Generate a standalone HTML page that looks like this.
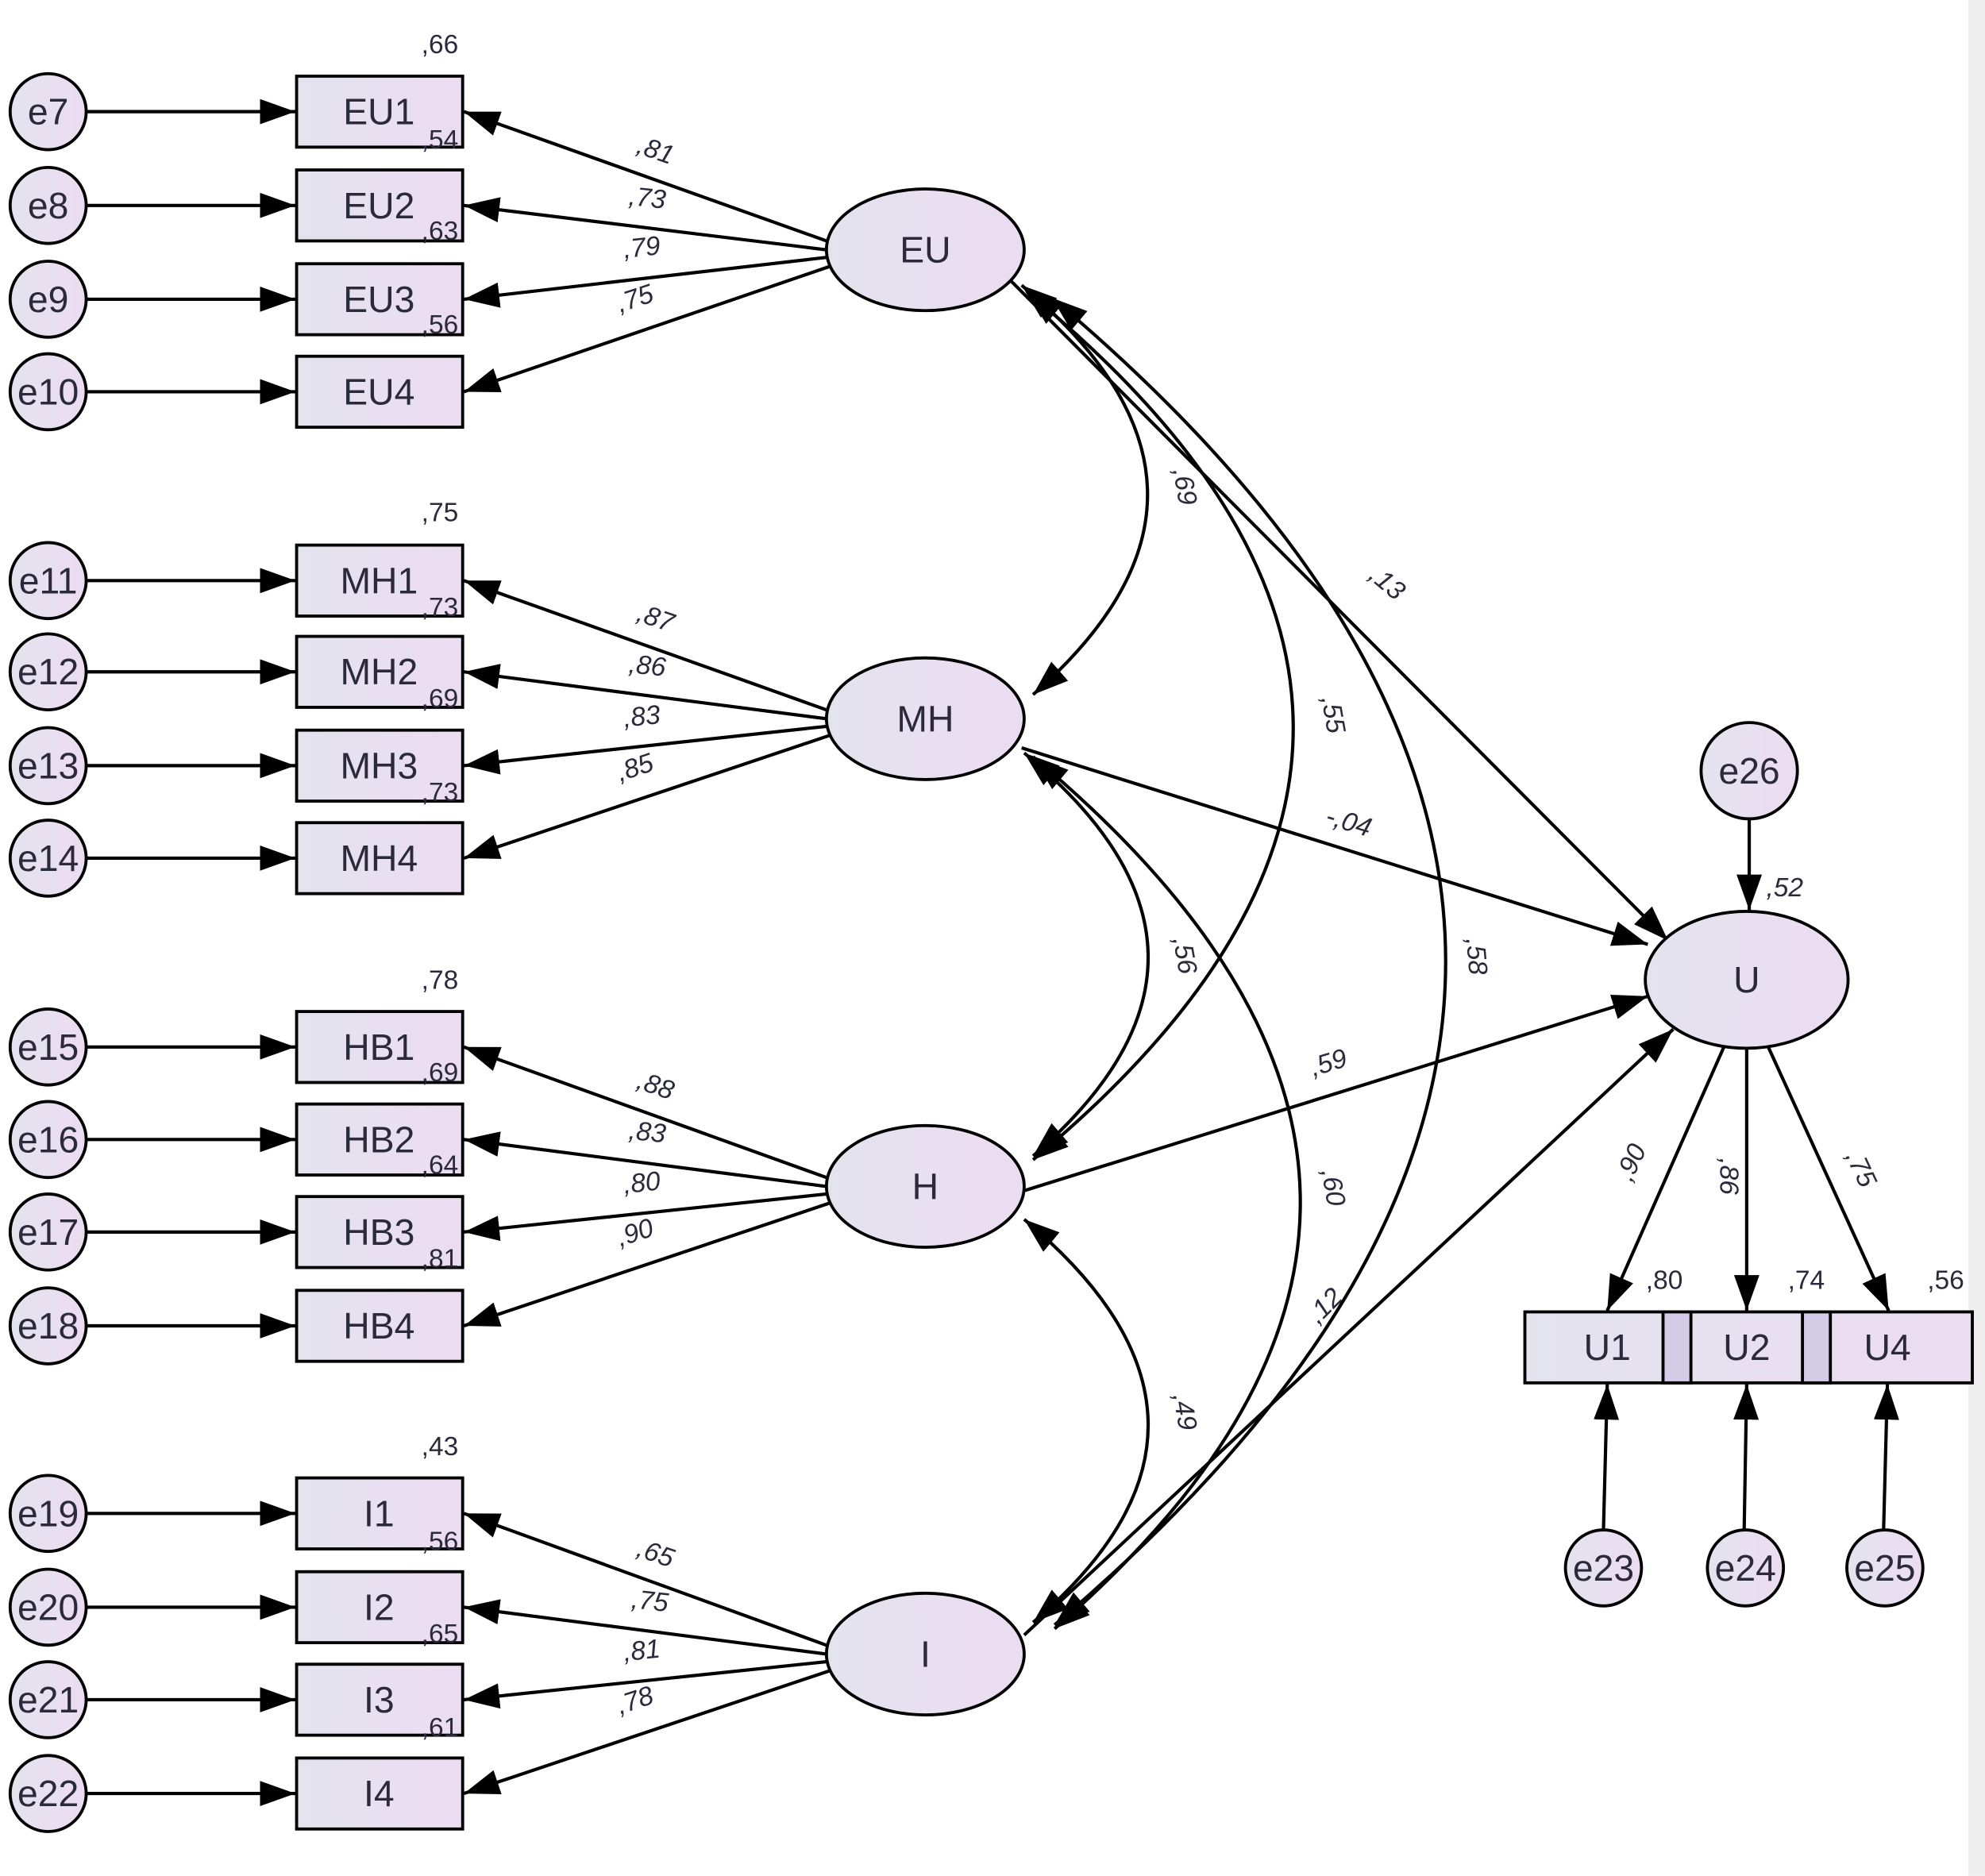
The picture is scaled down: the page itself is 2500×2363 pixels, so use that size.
<!DOCTYPE html>
<html><head><meta charset="utf-8"><style>
html,body{margin:0;padding:0;background:#fff;}
svg{display:block;}
text{font-family:"Liberation Sans",Arial,sans-serif;fill:#2a2a3a;}
.n{font-size:29px;text-anchor:middle;dominant-baseline:central;}
.s{font-size:21px;text-anchor:middle;}
.l{font-size:21px;font-style:italic;text-anchor:middle;}
</style></head><body>
<svg width="2500" height="2363" viewBox="0 0 1566 1480" xmlns="http://www.w3.org/2000/svg">
<defs>
<linearGradient id="g" x1="0" y1="0" x2="1" y2="0"><stop offset="0" stop-color="#e3e3ee"/><stop offset="1" stop-color="#ecdcf1"/></linearGradient>
<marker id="a" markerUnits="userSpaceOnUse" markerWidth="30" markerHeight="22" refX="28" refY="10" orient="auto-start-reverse"><path d="M0,0 L28,10 L0,20 Z" fill="#000"/></marker>
</defs>
<rect x="1553" y="0" width="13" height="1480" fill="#eeeeee"/>
<g stroke="#000" stroke-width="2.6" fill="none">
<g marker-end="url(#a)">
<line x1="68" y1="88" x2="233" y2="88"/><line x1="68" y1="162" x2="233" y2="162"/><line x1="68" y1="236" x2="233" y2="236"/><line x1="68" y1="309" x2="233" y2="309"/>
<line x1="68" y1="458" x2="233" y2="458"/><line x1="68" y1="530" x2="233" y2="530"/><line x1="68" y1="604" x2="233" y2="604"/><line x1="68" y1="677" x2="233" y2="677"/>
<line x1="68" y1="826" x2="233" y2="826"/><line x1="68" y1="899" x2="233" y2="899"/><line x1="68" y1="972" x2="233" y2="972"/><line x1="68" y1="1046" x2="233" y2="1046"/>
<line x1="68" y1="1194" x2="233" y2="1194"/><line x1="68" y1="1268" x2="233" y2="1268"/><line x1="68" y1="1341" x2="233" y2="1341"/><line x1="68" y1="1415" x2="233" y2="1415"/>
<line x1="652" y1="190" x2="366" y2="88"/><line x1="652" y1="197" x2="366" y2="162"/><line x1="652" y1="203" x2="366" y2="236"/><line x1="655" y1="210" x2="366" y2="309"/>
<line x1="652" y1="560" x2="366" y2="458"/><line x1="652" y1="567" x2="366" y2="530"/><line x1="652" y1="573" x2="366" y2="604"/><line x1="655" y1="580" x2="366" y2="677"/>
<line x1="652" y1="929" x2="366" y2="826"/><line x1="652" y1="936" x2="366" y2="899"/><line x1="652" y1="942" x2="366" y2="972"/><line x1="655" y1="949" x2="366" y2="1046"/>
<line x1="652" y1="1298" x2="366" y2="1194"/><line x1="652" y1="1305" x2="366" y2="1268"/><line x1="652" y1="1311" x2="366" y2="1341"/><line x1="655" y1="1318" x2="366" y2="1415"/>
<line x1="798" y1="222" x2="1316" y2="742"/>
<line x1="806" y1="590" x2="1300" y2="745"/>
<line x1="806" y1="940" x2="1300" y2="786"/>
<line x1="808" y1="1290" x2="1320" y2="812"/>
<line x1="1380" y1="647" x2="1380" y2="718"/>
<line x1="1360" y1="826" x2="1268" y2="1034"/>
<line x1="1378" y1="828" x2="1378" y2="1034"/>
<line x1="1395" y1="826" x2="1490" y2="1034"/>
<line x1="1265" y1="1207" x2="1268" y2="1092"/>
<line x1="1376" y1="1207" x2="1378" y2="1092"/>
<line x1="1486" y1="1207" x2="1489" y2="1092"/>
</g>
<g marker-start="url(#a)" marker-end="url(#a)">
<path d="M806,225 Q1000,386 815,548"/>
<path d="M810,230 Q1228,572 815,915"/>
<path d="M830,235 Q1450,757 832,1282"/>
<path d="M808,594 Q1000,752 815,912"/>
<path d="M815,597 Q1228,942 832,1285"/>
<path d="M808,962 Q1000,1122 815,1280"/>
</g>
</g>
<g stroke="#000" stroke-width="2.4" fill="url(#g)">
<circle cx="38" cy="88" r="30"/><circle cx="38" cy="162" r="30"/><circle cx="38" cy="236" r="30"/><circle cx="38" cy="309" r="30"/>
<circle cx="38" cy="458" r="30"/><circle cx="38" cy="530" r="30"/><circle cx="38" cy="604" r="30"/><circle cx="38" cy="677" r="30"/>
<circle cx="38" cy="826" r="30"/><circle cx="38" cy="899" r="30"/><circle cx="38" cy="972" r="30"/><circle cx="38" cy="1046" r="30"/>
<circle cx="38" cy="1194" r="30"/><circle cx="38" cy="1268" r="30"/><circle cx="38" cy="1341" r="30"/><circle cx="38" cy="1415" r="30"/>
<rect x="234" y="60" width="131" height="56"/><rect x="234" y="134" width="131" height="56"/><rect x="234" y="208" width="131" height="56"/><rect x="234" y="281" width="131" height="56"/>
<rect x="234" y="430" width="131" height="56"/><rect x="234" y="502" width="131" height="56"/><rect x="234" y="576" width="131" height="56"/><rect x="234" y="649" width="131" height="56"/>
<rect x="234" y="798" width="131" height="56"/><rect x="234" y="871" width="131" height="56"/><rect x="234" y="944" width="131" height="56"/><rect x="234" y="1018" width="131" height="56"/>
<rect x="234" y="1166" width="131" height="56"/><rect x="234" y="1240" width="131" height="56"/><rect x="234" y="1313" width="131" height="56"/><rect x="234" y="1387" width="131" height="56"/>
<ellipse cx="730" cy="197" rx="78" ry="48"/><ellipse cx="730" cy="567" rx="78" ry="48"/><ellipse cx="730" cy="936" rx="78" ry="48"/><ellipse cx="730" cy="1305" rx="78" ry="48"/>
<ellipse cx="1378" cy="773" rx="80" ry="54"/>
<circle cx="1380" cy="608" r="38"/>
<rect x="1203" y="1035" width="353" height="56"/>
<rect x="1312" y="1035" width="22" height="56" fill="#d4cce6"/>
<rect x="1422" y="1035" width="22" height="56" fill="#d4cce6"/>
<circle cx="1265" cy="1237" r="30"/><circle cx="1377" cy="1237" r="30"/><circle cx="1487" cy="1237" r="30"/>
</g>
<g>
<text x="38" y="88" class="n">e7</text><text x="38" y="162" class="n">e8</text><text x="38" y="236" class="n">e9</text><text x="38" y="309" class="n">e10</text>
<text x="38" y="458" class="n">e11</text><text x="38" y="530" class="n">e12</text><text x="38" y="604" class="n">e13</text><text x="38" y="677" class="n">e14</text>
<text x="38" y="826" class="n">e15</text><text x="38" y="899" class="n">e16</text><text x="38" y="972" class="n">e17</text><text x="38" y="1046" class="n">e18</text>
<text x="38" y="1194" class="n">e19</text><text x="38" y="1268" class="n">e20</text><text x="38" y="1341" class="n">e21</text><text x="38" y="1415" class="n">e22</text>
<text x="299" y="88" class="n">EU1</text><text x="299" y="162" class="n">EU2</text><text x="299" y="236" class="n">EU3</text><text x="299" y="309" class="n">EU4</text>
<text x="299" y="458" class="n">MH1</text><text x="299" y="530" class="n">MH2</text><text x="299" y="604" class="n">MH3</text><text x="299" y="677" class="n">MH4</text>
<text x="299" y="826" class="n">HB1</text><text x="299" y="899" class="n">HB2</text><text x="299" y="972" class="n">HB3</text><text x="299" y="1046" class="n">HB4</text>
<text x="299" y="1194" class="n">I1</text><text x="299" y="1268" class="n">I2</text><text x="299" y="1341" class="n">I3</text><text x="299" y="1415" class="n">I4</text>
<text x="730" y="197" class="n">EU</text><text x="730" y="567" class="n">MH</text><text x="730" y="936" class="n">H</text><text x="730" y="1305" class="n">I</text>
<text x="1378" y="773" class="n">U</text><text x="1380" y="608" class="n">e26</text>
<text x="1268" y="1063" class="n">U1</text><text x="1378" y="1063" class="n">U2</text><text x="1489" y="1063" class="n">U4</text>
<text x="1265" y="1237" class="n">e23</text><text x="1377" y="1237" class="n">e24</text><text x="1487" y="1237" class="n">e25</text>
</g>
<g>
<text x="347" y="42" class="s">,66</text><text x="347" y="117" class="s">,54</text><text x="347" y="189" class="s">,63</text><text x="347" y="263" class="s">,56</text>
<text x="347" y="411" class="s">,75</text><text x="347" y="486" class="s">,73</text><text x="347" y="558" class="s">,69</text><text x="347" y="632" class="s">,73</text>
<text x="347" y="780" class="s">,78</text><text x="347" y="853" class="s">,69</text><text x="347" y="926" class="s">,64</text><text x="347" y="1000" class="s">,81</text>
<text x="347" y="1148" class="s">,43</text><text x="347" y="1223" class="s">,56</text><text x="347" y="1296" class="s">,65</text><text x="347" y="1370" class="s">,61</text>
<text x="1313" y="1017" class="s">,80</text><text x="1425" y="1017" class="s">,74</text><text x="1535" y="1017" class="s">,56</text>
</g>
<g>
<text class="l" transform="translate(515,125) rotate(19)">,81</text>
<text class="l" transform="translate(510,163) rotate(6)">,73</text>
<text class="l" transform="translate(507,202) rotate(-6)">,79</text>
<text class="l" transform="translate(503,242) rotate(-18)">,75</text>
<text class="l" transform="translate(515,494) rotate(19)">,87</text>
<text class="l" transform="translate(510,532) rotate(6)">,86</text>
<text class="l" transform="translate(507,572) rotate(-6)">,83</text>
<text class="l" transform="translate(503,612) rotate(-18)">,85</text>
<text class="l" transform="translate(515,863) rotate(19)">,88</text>
<text class="l" transform="translate(510,900) rotate(6)">,83</text>
<text class="l" transform="translate(507,940) rotate(-6)">,80</text>
<text class="l" transform="translate(503,979) rotate(-18)">,90</text>
<text class="l" transform="translate(515,1232) rotate(19)">,65</text>
<text class="l" transform="translate(512,1270) rotate(6)">,75</text>
<text class="l" transform="translate(507,1309) rotate(-6)">,81</text>
<text class="l" transform="translate(503,1348) rotate(-18)">,78</text>
<text class="l" transform="translate(928,385) rotate(80)">,69</text>
<text class="l" transform="translate(928,755) rotate(80)">,56</text>
<text class="l" transform="translate(928,1115) rotate(80)">,49</text>
<text class="l" transform="translate(1045,565) rotate(80)">,55</text>
<text class="l" transform="translate(1045,938) rotate(80)">,60</text>
<text class="l" transform="translate(1158,755) rotate(85)">,58</text>
<text class="l" transform="translate(1090,465) rotate(40)">,13</text>
<text class="l" transform="translate(1062,655) rotate(17)">-,04</text>
<text class="l" transform="translate(1050,845) rotate(-17)">,59</text>
<text class="l" transform="translate(1050,1035) rotate(-45)">,12</text>
<text class="l" transform="translate(1408,707)">,52</text>
<text class="l" transform="translate(1293,920) rotate(-65)">,90</text>
<text class="l" transform="translate(1357,928) rotate(90)">,86</text>
<text class="l" transform="translate(1462,925) rotate(65)">,75</text>
</g>
</svg>
</body></html>
